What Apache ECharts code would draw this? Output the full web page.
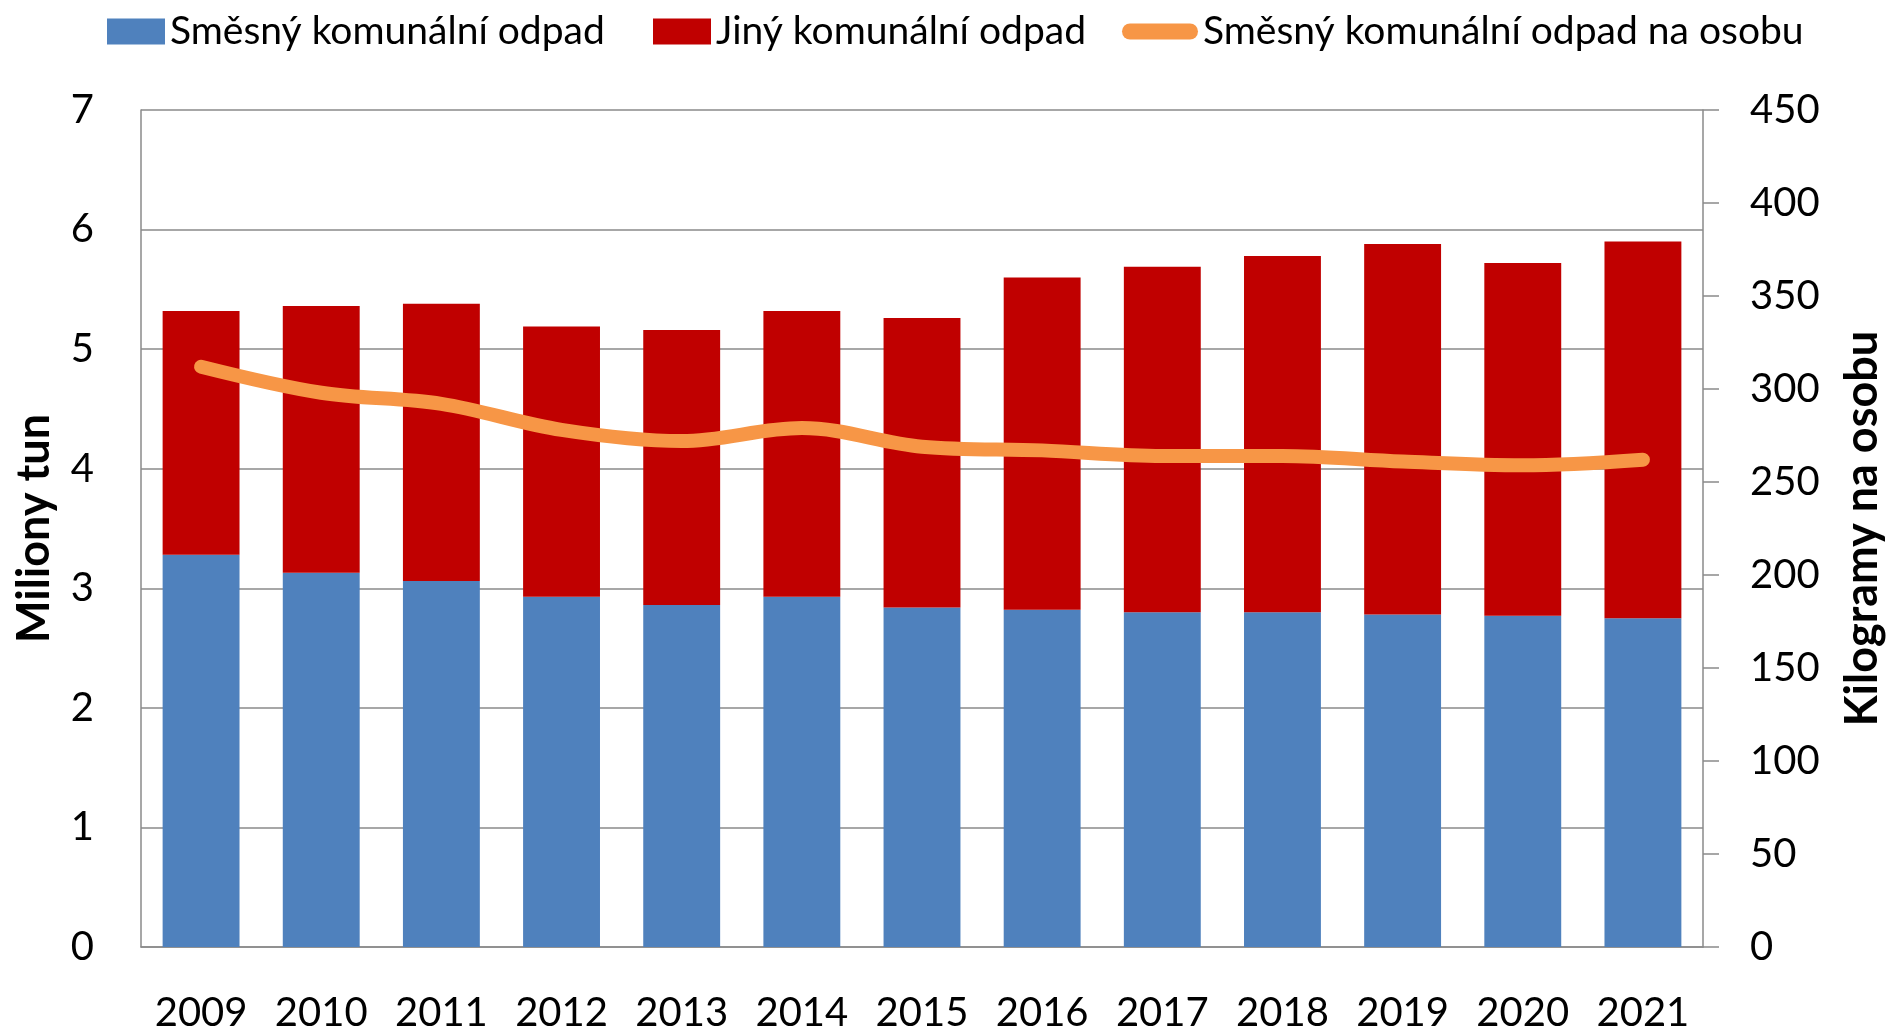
<!DOCTYPE html>
<html>
<head>
<meta charset="utf-8">
<script src="https://cdn.jsdelivr.net/npm/echarts@6/dist/echarts.min.js"></script>
<style>
  html, body { margin: 0; padding: 0; background: #fff; }
  #chart { width: 1891px; height: 1030px; }
</style>
</head>
<body>
<div id="chart"></div>
<script>
// roky a hodnoty
const years = ['2009', '2010', '2011', '2012', '2013', '2014', '2015', '2016', '2017', '2018', '2019', '2020', '2021']
const mixedWaste = [3.28, 3.13, 3.06, 2.93, 2.86, 2.93, 2.84, 2.82, 2.80, 2.80, 2.78, 2.77, 2.75]
const otherWaste = [2.04, 2.23, 2.32, 2.26, 2.30, 2.39, 2.42, 2.78, 2.89, 2.98, 3.10, 2.95, 3.15]
const perCapita = [312, 298, 292, 278, 272, 279, 269, 267, 264, 264, 261, 259, 262]

const names = ['Směsný komunální odpad', 'Jiný komunální odpad', 'Směsný komunální odpad na osobu']
const font = 'Lato'
const gridColor = '#8a8a8a'

const legendText = { fontFamily: font, fontSize: 39, color: '#000' }

const option = {
  animation: false,
  backgroundColor: '#fff',
  textStyle: { fontFamily: font },
  legend: [
    {
      left: 102, top: 7,
      itemWidth: 58, itemHeight: 26, icon: 'rect',
      selectedMode: false,
      textStyle: legendText,
      data: [names[0]]
    },
    {
      left: 648, top: 7,
      itemWidth: 58, itemHeight: 26, icon: 'rect',
      selectedMode: false,
      textStyle: legendText,
      data: [names[1]]
    },
    {
      left: 1117, top: 7,
      itemWidth: 76, itemHeight: 17,
      icon: 'path://M8,0 H68 A8,8 0 0 1 68,16 H8 A8,8 0 0 1 8,0 Z',
      selectedMode: false,
      textStyle: legendText,
      data: [names[2]]
    }
  ],
  grid: {
    left: 141,
    right: 188,
    top: 110,
    bottom: 83,
    outerBoundsMode: 'none',
  },
  xAxis: {
    type: 'category',
    data: years,
    axisLine: { lineStyle: { color: gridColor, width: 1.5 } },
    axisTick: { show: false },
    axisLabel: {
      interval: 0,
      fontFamily: font,
      fontSize: 40,
      color: '#000',
      margin: 46,
    },
  },
  yAxis: [
    {
      type: 'value',
      min: 0,
      max: 7,
      interval: 1,
      name: 'Miliony tun',
      nameLocation: 'middle',
      nameRotate: 90,
      nameGap: 84,
      nameTextStyle: { fontFamily: font, fontSize: 45, fontWeight: 'bold', color: '#000' },
      axisLine: { show: true, lineStyle: { color: gridColor, width: 1.5 } },
      axisTick: { show: false },
      axisLabel: { fontFamily: font, fontSize: 40, color: '#000', margin: 47 },
      splitLine: { show: true, lineStyle: { color: gridColor, width: 1.5 } },
    },
    {
      type: 'value',
      position: 'right',
      min: 0,
      max: 450,
      interval: 50,
      name: 'Kilogramy na osobu',
      nameLocation: 'middle',
      nameRotate: 90,
      nameGap: 137,
      nameTextStyle: { fontFamily: font, fontSize: 45, fontWeight: 'bold', color: '#000' },
      axisLine: { show: true, lineStyle: { color: gridColor, width: 1.5 } },
      axisTick: { show: true, length: 16, lineStyle: { color: gridColor, width: 1.5 } },
      axisLabel: { fontFamily: font, fontSize: 40, color: '#000', margin: 47 },
      splitLine: { show: false },
    }
  ],
  series: [
    {
      name: names[0],
      type: 'bar',
      stack: 'odpad',
      barWidth: '64%',
      itemStyle: { color: '#4F81BD' },
      data: mixedWaste
    },
    {
      name: names[1],
      type: 'bar',
      stack: 'odpad',
      barWidth: '64%',
      itemStyle: { color: '#C00000' },
      data: otherWaste
    },
    {
      name: names[2],
      type: 'line',
      yAxisIndex: 1,
      smooth: 0.35,
      showSymbol: false,
      symbol: 'none',
      itemStyle: { color: '#F79646' },
      lineStyle: { color: '#F79646', width: 14, cap: 'round', join: 'round' },
      data: perCapita
    }
  ],
}

const chart = echarts.init(document.getElementById('chart'), null, { renderer: 'canvas' })
chart.setOption(option)
</script>
</body>
</html>
